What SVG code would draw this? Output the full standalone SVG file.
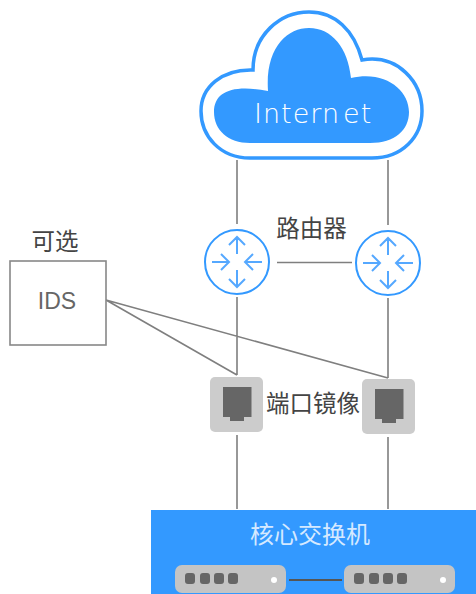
<svg xmlns="http://www.w3.org/2000/svg" width="476" height="594" viewBox="0 0 476 594">
<style>
.c{fill:none;stroke:#7f7f7f;stroke-width:1.6}
.t{font-family:"Noto Sans CJK SC","Liberation Sans",sans-serif;font-size:23.500px;fill:#444}
.w{fill:#fff}
.r{fill:none;stroke:#3399ff;stroke-width:2}
.a{fill:none;stroke:#55a8ff;stroke-width:2}
.j{fill:#ccc}.k{fill:#666}
.s{fill:#c4c4c4}
</style>
<defs>
<g id="router">
<circle class="r" r="32"/>
<path class="a" d="M0-25V-8M-8-17L0-25L8-17M0 25V8M-8 17L0 25L8 17M-25 0H-8M-16-8L-8 0L-16 8M25 0H8M16-8L8 0L16 8"/>
</g>
<g id="port">
<rect class="j" x="-27" y="-27" width="53" height="55" rx="5"/>
<path class="k" d="M-14-17H14.500V13H7V17H-7V13H-14Z"/>
</g>
<g id="sw">
<rect class="s" width="111" height="28" rx="7"/>
<g class="k"><rect x="10" y="8" width="10" height="11" rx="3"/><rect x="25" y="8" width="10" height="11" rx="3"/><rect x="39" y="8" width="10" height="11" rx="3"/><rect x="53" y="8" width="10" height="11" rx="3"/></g>
<circle class="w" cx="99" cy="15" r="3"/>
</g>
</defs>
<g id="connectors">
<path class="c" d="M237 160V224M388 160V225M237 297V375M388 298V378M277 262.500H352M106 300L237 375M106 300L388 378M237 435V509M388 437V509"/>
</g>
<g id="internet">
<path d="M250 158C220 158 201 136 201 111C201 87 222 69 253 70C253 35 280 12 309 12C335 12 354 30 362 60C398 54 422 82 422 111C422 137 402 158 372 158Z" fill="#fff" stroke="#3399ff" stroke-width="3.500"/>
<path d="M250 143C228 143 214 130 214 112C214 92 232 84 268 91C265 48 287 28 309 28C332 28 348 48 351 78C385 70 409 90 409 112C409 130 395 143 370 143Z" fill="#3399ff"/>
<text x="254" y="123" font-family="'DejaVu Sans',sans-serif" font-size="27" fill="#fff" font-weight="200" letter-spacing="1">Intern<tspan dx="3">et</tspan></text>
</g>
<g id="router-left"><use href="#router" x="237" y="262"/></g>
<g id="router-right"><use href="#router" x="388" y="263"/></g>
<g id="router-label"><text class="t" x="311.500" y="237" text-anchor="middle">路由器</text></g>
<g id="ids">
<rect x="10" y="261" width="96" height="84" fill="#fff" stroke="#888" stroke-width="1.600"/>
<text x="57" y="309" text-anchor="middle" font-family="'Liberation Sans',sans-serif" font-size="23" fill="#666">IDS</text>
<text class="t" x="55" y="250" text-anchor="middle">可选</text>
</g>
<g id="port-left"><use href="#port" x="237" y="404"/></g>
<g id="port-right"><use href="#port" x="389" y="406"/></g>
<g id="port-label"><text class="t" x="313" y="412" text-anchor="middle">端口镜像</text></g>
<g id="core">
<rect x="151" y="510" width="325" height="84" fill="#3399ff"/>
<text x="310" y="543" text-anchor="middle" font-family="'Noto Sans CJK SC',sans-serif" font-size="24" fill="#d5e9ff">核心交换机</text>
<use href="#sw" x="175" y="565"/>
<use href="#sw" x="344" y="565"/>
<path d="M289 580H342" stroke="#555" stroke-width="2"/>
</g>
</svg>
